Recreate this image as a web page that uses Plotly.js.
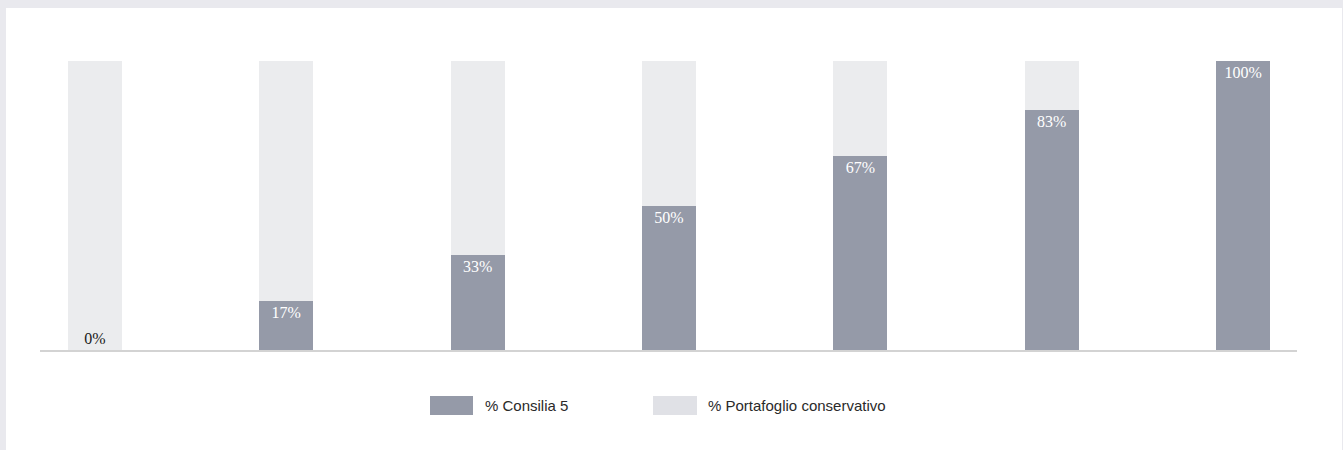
<!DOCTYPE html>
<html>
<head>
<meta charset="utf-8">
<script src="https://cdn.plot.ly/plotly-3.0.1.min.js"></script>
<style>
  html, body { margin:0; padding:0; width:1343px; height:450px; overflow:hidden; background:#e9e9ee; }
  #frame { position:absolute; left:6px; top:8px; width:1336px; height:442px; background:#ffffff; }
  #chart { position:absolute; left:0; top:0; width:1343px; height:450px; }
</style>
</head>
<body>
<div id="frame"></div>
<div id="chart"></div>
<script>
// Data
var categories = ['1', '2', '3', '4', '5', '6', '7'];
var consiliaValues = [0, 17, 33, 50, 67, 83, 100];
var conservativoValues = [100, 83, 67, 50, 33, 17, 0];
var consiliaLabels = ['', '17%', '33%', '50%', '67%', '83%', '100%'];
var conservativoLabels = ['0%', '', '', '', '', '', ''];
var seriesNames = ['% Consilia 5', '% Portafoglio conservativo'];

var W = 1343, H = 450;
var M = {l: 40, r: 46, t: 61, b: 100};
var darkColor = '#959aa8';
var lightColor = '#ebecee';
var legendLight = '#e0e1e6';

var traces = [
  {
    type: 'bar', x: categories, y: consiliaValues, name: seriesNames[0],
    marker: {color: darkColor, line: {width: 0}},
    width: 0.282,
    text: consiliaLabels, textposition: 'inside', insidetextanchor: 'end',
    textfont: {family: 'Liberation Serif, serif', size: 16, color: '#ffffff'},
    constraintext: 'none', hoverinfo: 'skip'
  },
  {
    type: 'bar', x: categories, y: conservativoValues, name: seriesNames[1],
    marker: {color: lightColor, line: {width: 0}},
    width: 0.282,
    text: conservativoLabels, textposition: 'inside', insidetextanchor: 'start',
    textfont: {family: 'Liberation Serif, serif', size: 16, color: '#1a1a1a'},
    constraintext: 'none', hoverinfo: 'skip'
  }
];

var plotW = W - M.l - M.r, plotH = H - M.t - M.b;
function px(x) { return (x - M.l) / plotW; }
function py(y) { return (H - M.b - y) / plotH; }

var shapes = [
  {type: 'rect', xref: 'paper', yref: 'paper', x0: px(430), x1: px(473), y0: py(415), y1: py(396), fillcolor: darkColor, line: {width: 0}},
  {type: 'rect', xref: 'paper', yref: 'paper', x0: px(653), x1: px(697), y0: py(415), y1: py(396), fillcolor: legendLight, line: {width: 0}}
];
var annotations = [
  {xref: 'paper', yref: 'paper', x: px(483), y: py(405.5), xanchor: 'left', yanchor: 'middle', showarrow: false,
   text: seriesNames[0], font: {family: 'Liberation Sans, Arial, sans-serif', size: 15, color: '#2a2a2a'}},
  {xref: 'paper', yref: 'paper', x: px(706), y: py(405.5), xanchor: 'left', yanchor: 'middle', showarrow: false,
   text: seriesNames[1], font: {family: 'Liberation Sans, Arial, sans-serif', size: 15, color: '#2a2a2a'}}
];

var layout = {
  width: W, height: H,
  margin: M,
  paper_bgcolor: 'rgba(0,0,0,0)',
  plot_bgcolor: 'rgba(0,0,0,0)',
  barmode: 'stack',
  showlegend: false,
  xaxis: {type: 'category', range: [-0.287, 6.282], showgrid: false, zeroline: false,
          showticklabels: false, ticks: '', showline: true, linecolor: '#d3d3d3', linewidth: 2, fixedrange: true},
  yaxis: {range: [0, 100], showgrid: false, zeroline: false, showticklabels: false, ticks: '', showline: false, fixedrange: true},
  shapes: shapes,
  annotations: annotations,
  uniformtext: {mode: false}
};

Plotly.newPlot('chart', traces, layout, {displayModeBar: false, staticPlot: true});
</script>
</body>
</html>
